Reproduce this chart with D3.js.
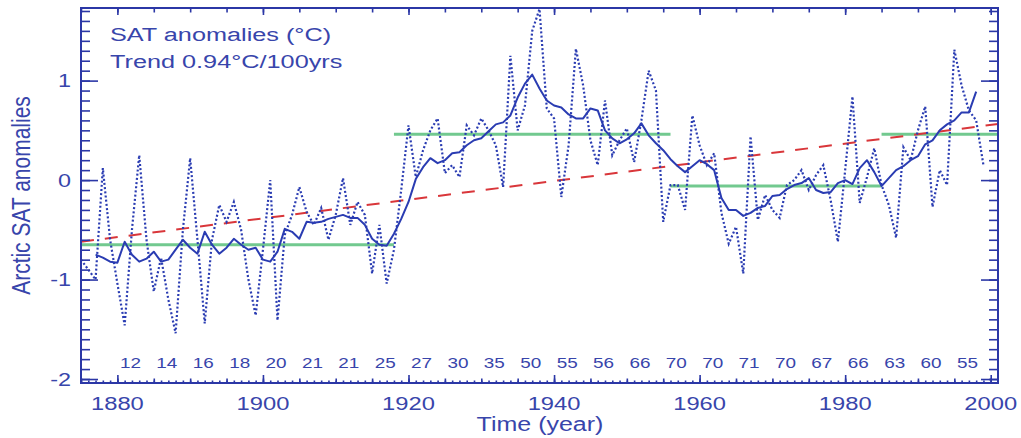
<!DOCTYPE html>
<html><head><meta charset="utf-8">
<script src="https://cdn.jsdelivr.net/npm/d3@7"></script>
<style>
body{margin:0;background:#fff}
svg{display:block;background:#fff}
text{font-family:"Liberation Sans",Arial,Helvetica,sans-serif}
</style>
</head><body>
<svg id="chart" width="1021" height="438"></svg>
<script>
// ---------- data ----------
const firstYear = 1875;
const annualSAT = [
  -0.80, -0.90, -1.00,  0.12, -0.60, -1.04, -1.46, -0.50,  0.25, -0.60, // 1875-1884
  -1.12, -0.78, -1.20, -1.54, -0.50,  0.22, -0.60, -1.44, -0.60, -0.25, // 1885-1894
  -0.42, -0.22, -0.50, -1.00, -1.36, -0.70,  0.00, -1.41, -0.55, -0.35, // 1895-1904
  -0.07, -0.32, -0.45, -0.28, -0.60, -0.35,  0.02, -0.45, -0.22, -0.35, // 1905-1914
  -0.94, -0.45, -1.04, -0.70, -0.10,  0.55,  0.03,  0.30,  0.50,  0.62, // 1915-1924
   0.07,  0.15,  0.03,  0.55,  0.45,  0.62,  0.50,  0.35, -0.07,  1.25, // 1925-1934
   0.50,  0.75,  1.50,  1.72,  0.72,  0.62, -0.17,  0.35,  1.32,  0.95, // 1935-1944
   0.40,  0.15,  0.80,  0.25,  0.40,  0.52,  0.18,  0.60,  1.10,  0.90, // 1945-1954
  -0.42, -0.05, -0.05, -0.30,  0.65,  0.35,  0.15,  0.27, -0.33, -0.64, // 1955-1964
  -0.47, -0.94,  0.44, -0.40, -0.15, -0.30, -0.38, -0.05,  0.00,  0.10, // 1965-1974
  -0.10,  0.05,  0.15, -0.20, -0.62,  0.10,  0.84, -0.23,  0.03,  0.32, // 1975-1984
  -0.05, -0.25, -0.58,  0.33,  0.20,  0.50,  0.74, -0.27,  0.10, -0.05, // 1985-1994
   1.31,  0.95,  0.70,  0.60,  0.15                                      // 1995-1999
];
const smoothFirstYear = 1877;
const smoothSAT = [
  -0.75, -0.78, -0.82, -0.83, -0.62, -0.75, -0.82, -0.79, -0.72, -0.82, // 1877-1886
  -0.80, -0.70, -0.60, -0.68, -0.74, -0.52, -0.65, -0.74, -0.68, -0.59, // 1887-1896
  -0.65, -0.70, -0.68, -0.80, -0.82, -0.72, -0.49, -0.52, -0.59, -0.42, // 1897-1906
  -0.43, -0.42, -0.39, -0.37, -0.35, -0.38, -0.38, -0.45, -0.59, -0.65, // 1907-1916
  -0.66, -0.54, -0.39, -0.22,  0.01,  0.13,  0.22,  0.17,  0.20,  0.27, // 1917-1926
   0.28,  0.35,  0.40,  0.42,  0.49,  0.56,  0.58,  0.65,  0.83,  0.97, // 1927-1936
   1.06,  0.92,  0.80,  0.75,  0.73,  0.66,  0.62,  0.62,  0.72,  0.70, // 1937-1946
   0.50,  0.42,  0.37,  0.41,  0.47,  0.57,  0.45,  0.37,  0.30,  0.21, // 1947-1956
   0.14,  0.08,  0.14,  0.20,  0.16,  0.10, -0.18, -0.30, -0.30, -0.36, // 1957-1966
  -0.33, -0.28, -0.26, -0.16, -0.15, -0.09, -0.05, -0.03,  0.02, -0.10, // 1967-1976
  -0.13, -0.12, -0.03,  0.00, -0.04,  0.12,  0.20,  0.08, -0.06,  0.02, // 1977-1986
   0.10,  0.14,  0.20,  0.24,  0.36,  0.40,  0.50,  0.56,  0.60,  0.68, // 1987-1996
   0.68,  0.89                                                          // 1997-1998
];
const trendYears = [1875, 2001];
const trendSAT = [-0.62, 0.564];
const stepStart = [1875, 1918, 1956, 1985];
const stepEnd   = [1918, 1956, 1985, 2001];
const stepMean  = [-0.65, 0.46, -0.06, 0.46];
const stationCounts = [12,14,16,18,20,21,21,25,27,30,35,50,55,56,66,70,70,71,70,67,66,63,60,55];
const xTickYears = [1880, 1900, 1920, 1940, 1960, 1980, 2000];
const yTickValues = [-2, -1, 0, 1];
const titleLines = ["SAT anomalies (\u00B0C)", "Trend 0.94\u00B0C/100yrs"];
const xAxisTitle = "Time (year)";
const yAxisTitle = "Arctic SAT anomalies";

// ---------- drawing ----------
const AXIS = "#2b37a6", TEXT = "#3845ab", BLUE = "#2a3cb2", GREEN = "#72c98f", RED = "#d9363a";
const svg = d3.select("#chart");
const x = d3.scaleLinear().domain([1875, 2001]).range([81, 998]);
const y = d3.scaleLinear().domain([-2.04, 1.73]).range([383, 8]);

const annual = annualSAT.map((v, i) => [firstYear + i, v]);
const smooth = smoothSAT.map((v, i) => [smoothFirstYear + i, v]);
const line = d3.line().x(d => x(d[0])).y(d => y(d[1]));

const plot = svg.append("g");
// step means (green)
stepMean.forEach((v, i) => {
  plot.append("path").attr("d", line([[stepStart[i], v], [stepEnd[i], v]]))
    .attr("stroke", GREEN).attr("stroke-width", 3).attr("fill", "none");
});
// trend (red dashed)
plot.append("path").attr("d", line(trendYears.map((t, i) => [t, trendSAT[i]])))
  .attr("stroke", RED).attr("stroke-width", 2).attr("fill", "none")
  .attr("stroke-dasharray", "13,11");
// annual (dotted)
plot.append("path").attr("d", line(annual))
  .attr("stroke", BLUE).attr("stroke-width", 2.2).attr("fill", "none")
  .attr("stroke-dasharray", "2,2.2");
// smoothed (solid)
plot.append("path").attr("d", line(smooth))
  .attr("stroke", BLUE).attr("stroke-width", 2).attr("fill", "none")
  .attr("stroke-linejoin", "round");

// ---------- axes ----------
const ax = svg.append("g");
const yMinor = d3.range(-20, 18).map(k => k / 10);
const x5 = d3.range(1875, 2001, 5);
const x1 = d3.range(1875, 2001, 1);

function tickAxis(axisFn, scale, values, size, pos) {
  const a = axisFn(scale).tickValues(values).tickSize(size).tickSizeOuter(0).tickFormat("");
  const g = ax.append("g").attr("transform", pos).call(a);
  g.select(".domain").remove();
  g.selectAll("line").attr("stroke", AXIS).attr("stroke-width", 1.6);
  return g;
}
// bottom
tickAxis(d3.axisBottom, x, x1, -2.5, `translate(0,${y.range()[0]})`);
tickAxis(d3.axisBottom, x, x5, -4.5, `translate(0,${y.range()[0]})`);
tickAxis(d3.axisBottom, x, xTickYears, -8, `translate(0,${y.range()[0]})`);
// top
tickAxis(d3.axisTop, x, x5, -4.5, `translate(0,${y.range()[1]})`);
tickAxis(d3.axisTop, x, xTickYears, -7, `translate(0,${y.range()[1]})`);
// left
tickAxis(d3.axisLeft, y, yMinor, -9, `translate(${x.range()[0]},0)`);
tickAxis(d3.axisLeft, y, yTickValues, -17, `translate(${x.range()[0]},0)`);
// right
tickAxis(d3.axisRight, y, yMinor, -9, `translate(${x.range()[1]},0)`);
tickAxis(d3.axisRight, y, yTickValues, -17, `translate(${x.range()[1]},0)`);
// frame
ax.append("rect").attr("x", x.range()[0]).attr("y", y.range()[1])
  .attr("width", x.range()[1] - x.range()[0]).attr("height", y.range()[0] - y.range()[1])
  .attr("fill", "none").attr("stroke", AXIS).attr("stroke-width", 2);

// ---------- text ----------
function stext(str, px, py, size, sx, anchor, rot) {
  return svg.append("text")
    .attr("transform", `translate(${px},${py}) scale(${sx},1)` + (rot ? ` rotate(${rot})` : ""))
    .attr("text-anchor", anchor).attr("fill", TEXT)
    .style("font-size", size + "px").text(str);
}
titleLines.forEach((t, i) => stext(t, 110, 41 + i * 27, 19, 1.33, "start"));
yTickValues.forEach(v => stext(String(v).replace("-", "-"), 71, y(v) + 6.5, 18, 1.3, "end"));
xTickYears.forEach(t => stext(String(t), x(t), 410, 18, 1.32, "middle"));
stationCounts.forEach((c, i) => stext(String(c), x(1881.8 + 5 * i), 368, 14, 1.35, "middle"));
stext(xAxisTitle, 540, 431, 20, 1.25, "middle");
stext(yAxisTitle, 30, 195.5, 21, 1.2, "middle", -90);
</script>
</body></html>
